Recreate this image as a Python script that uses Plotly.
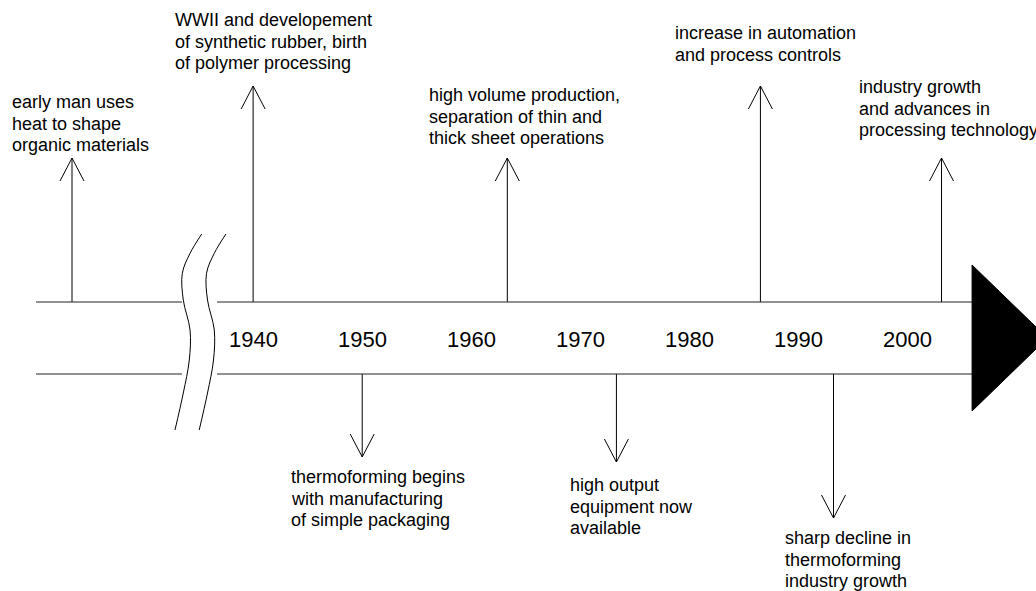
import plotly.graph_objects as go

# --- timeline data -------------------------------------------------------
DECADES = [1940, 1950, 1960, 1970, 1980, 1990, 2000]
DECADE_LABELS = ["1940", "1950", "1960", "1970", "1980", "1990", "2000"]

EVENT_TEXT = [
    ["early man uses", "heat to shape", "organic materials"],
    ["WWII and developement", "of synthetic rubber, birth", "of polymer processing"],
    ["thermoforming begins", "with manufacturing", "of simple packaging"],
    ["high volume production,", "separation of thin and", "thick sheet operations"],
    ["high output", "equipment now", "available"],
    ["increase in automation", "and process controls"],
    ["sharp decline in", "thermoforming", "industry growth"],
    ["industry growth", "and advances in", "processing technology"],
]
# where each arrow meets the band (early man sits before the axis break)
EVENT_YEAR = [1923.4, 1940, 1950, 1963.3, 1973.3, 1986.5, 1993.2, 2003.1]
EVENT_SIDE = ["up", "up", "down", "up", "down", "up", "down", "up"]

# --- layout (drawing units: x in years, y in px around the band centre) ---
X_RANGE = [1916.8, 2011.76]
Y_RANGE = [-253, 338]
BAND = 36
BAND_START, BAND_END = 1920.1, 2005.9
BREAK_LEFT, BREAK_RIGHT = 1933.48, 1936.69
HEAD_HALF = 73
HEAD_TIP = 2012.8

ARROW_TIP = [180, 252, -119, 180, -124, 252, -180, 180]
WING_X, WING_Y = 1.1, 23
LABEL_X = [1917.7, 1932.66, 1943.29, 1955.94, 1968.86, 1978.5, 1988.57, 1995.35]
LABEL_Y = [236, 318, -139, 243, -147, 305, -200, 251]
LINE_GAP = 21.5

# break squiggle (left stroke, right one is shifted)
BREAK_CURVE_X = [1935.29, 1934.22, 1933.51, 1933.60, 1934.22, 1934.15, 1933.60, 1932.84]
BREAK_CURVE_Y = [104, 84.7, 64.7, 38, 8, -22, -55, -92]
BREAK_SHIFT = 2.22

FONT = "Liberation Sans, Arial, sans-serif"
INK = "#000000"

fig = go.Figure()

# arrows: shaft + open V head
ax, ay = [], []
for year, side, tip in zip(EVENT_YEAR, EVENT_SIDE, ARROW_TIP):
    base = BAND if side == "up" else -BAND
    back = tip - WING_Y if side == "up" else tip + WING_Y
    ax += [year, year, None, year - WING_X, year, year + WING_X, None]
    ay += [base, tip, None, back, tip, back, None]
fig.add_trace(go.Scatter(x=ax, y=ay, mode="lines",
                         line=dict(color=INK, width=1),
                         hoverinfo="skip", showlegend=False))

# the axis-break squiggle
for shift in (0, BREAK_SHIFT):
    fig.add_trace(go.Scatter(
        x=[v + shift for v in BREAK_CURVE_X], y=BREAK_CURVE_Y, mode="lines",
        line=dict(color=INK, width=1, shape="spline", smoothing=1.0),
        hoverinfo="skip", showlegend=False))

shapes = []
for y in (BAND, -BAND):
    shapes.append(dict(type="line", xref="x", yref="y", x0=BAND_START, x1=BREAK_LEFT,
                       y0=y, y1=y, line=dict(color="#222", width=1)))
    shapes.append(dict(type="line", xref="x", yref="y", x0=BREAK_RIGHT, x1=BAND_END,
                       y0=y, y1=y, line=dict(color="#222", width=1)))
# big black arrow head at the end of the band
shapes.append(dict(
    type="path", xref="x", yref="y",
    path=f"M {BAND_END},{HEAD_HALF} L {HEAD_TIP},0 L {BAND_END},{-HEAD_HALF} Z",
    fillcolor=INK, line=dict(color=INK, width=1)))

annotations = []
for year, label in zip(DECADES, DECADE_LABELS):
    annotations.append(dict(x=year, y=-1, xref="x", yref="y", text=label,
                            showarrow=False, xanchor="center", yanchor="middle",
                            font=dict(family=FONT, size=22, color=INK)))

for lines, lx, ly in zip(EVENT_TEXT, LABEL_X, LABEL_Y):
    for i, line in enumerate(lines):
        annotations.append(dict(x=lx, y=ly - i * LINE_GAP, xref="x", yref="y",
                                text=line, showarrow=False,
                                xanchor="left", yanchor="middle",
                                font=dict(family=FONT, size=18, color=INK)))

fig.update_layout(
    width=1036, height=591,
    margin=dict(l=0, r=0, t=0, b=0),
    paper_bgcolor="white", plot_bgcolor="white",
    xaxis=dict(range=X_RANGE, visible=False, fixedrange=True),
    yaxis=dict(range=Y_RANGE, visible=False, fixedrange=True),
    shapes=shapes, annotations=annotations,
    hovermode=False,
)

# drop the default page margin so the figure fills the window exactly
fig.write_html("out.html", config={"displayModeBar": False},
               post_script="document.body.style.margin='0';")
